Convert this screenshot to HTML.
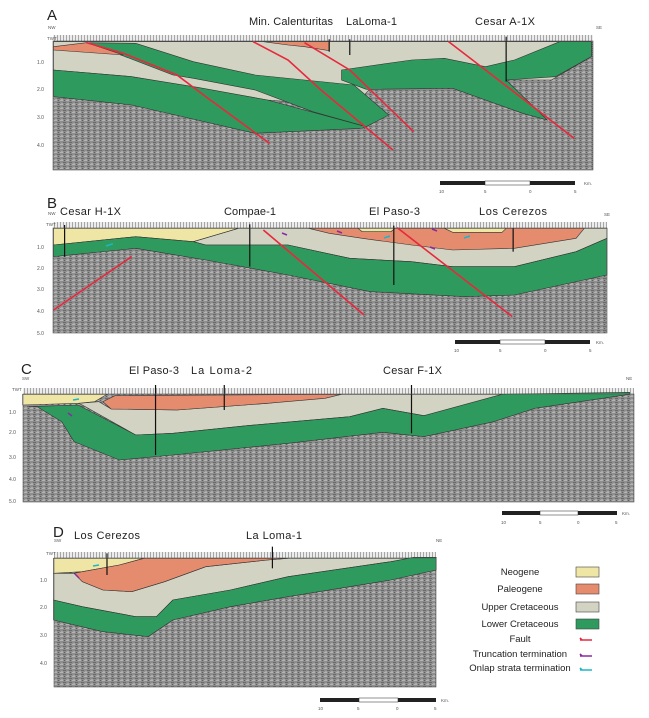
<!DOCTYPE html>
<html><head><meta charset="utf-8">
<style>
html,body{margin:0;padding:0;background:#fff;}
svg{display:block;font-family:"Liberation Sans",sans-serif;}
.tk{font-size:5px;fill:#555;}
.ttl{font-size:11px;fill:#222;}
.pl{font-size:15px;fill:#222;}
.sm{font-size:4.5px;fill:#555;}
.ln{vector-effect:non-scaling-stroke;stroke:#333;stroke-width:0.6;}
.ft{vector-effect:non-scaling-stroke;stroke:#e8283c;stroke-width:1.6;fill:none;}
.wl{vector-effect:non-scaling-stroke;stroke:#111;stroke-width:1.2;}
.ng{fill:#efe6a6;} .pg{fill:#e58b6e;} .uc{fill:#d3d3c3;} .lc{fill:#2f9a5e;}
.lg{font-size:9.5px;fill:#222;}
</style></head>
<body>
<svg width="649" height="718" viewBox="0 0 649 718" xmlns="http://www.w3.org/2000/svg">
<defs>
<pattern id="seis" width="6" height="4" patternUnits="userSpaceOnUse">
<rect width="6" height="4" fill="#8e8e8e"/>
<rect x="0" y="0" width="3" height="1" fill="#b4b4b4"/>
<rect x="3" y="2" width="3" height="1" fill="#6a6a6a"/>
<rect x="1" y="3" width="2" height="1" fill="#a8a8a8"/>
<rect x="4" y="0" width="1" height="1" fill="#5e5e5e"/>
</pattern>
<pattern id="rul" width="3" height="6" patternUnits="userSpaceOnUse">
<rect width="3" height="6" fill="#ececec"/><rect x="0" width="0.6" height="6" fill="#777"/>
</pattern>
</defs>

<!-- PANEL A -->
<g>
<text class="pl" x="47" y="20">A</text>
<text class="sm" x="48" y="29">NW</text>
<text class="sm" x="596" y="29">SE</text>
<text class="ttl" x="249" y="25" textLength="84">Min. Calenturitas</text>
<text class="ttl" x="346" y="25" textLength="51">LaLoma-1</text>
<text class="ttl" x="475" y="25" textLength="60">Cesar A-1X</text>
<rect x="53" y="35" width="540" height="7" fill="url(#rul)"/>
<rect x="53" y="41" width="540" height="129" fill="url(#seis)"/>
<g transform="scale(0.4115,0.3333)">
<polygon class="uc ln" points="130,125 1437,125 1437,170 1340,240 1200,240 1080,180 900,265 860,320 650,300 470,262 320,230 130,210"/>
<polygon class="lc ln" points="130,210 320,230 480,262 650,300 890,380 880,385 620,400 320,315 130,290"/>
<polygon class="lc ln" points="210,128 330,130 470,185 620,225 740,240 860,255 945,345 890,380 760,335 620,270 470,235 420,225 300,168"/>
<polygon class="lc ln" points="830,210 1000,180 1080,175 1180,200 1250,180 1360,125 1437,125 1437,170 1350,230 1230,240 1330,360 1270,340 1100,265 890,268 830,240"/>
<polygon class="pg ln" points="130,140 210,128 300,165 130,150"/>
<polygon class="pg ln" points="640,125 800,125 800,152 740,140 700,135"/>
<polyline class="ft" points="210,128 300,160 430,225 500,290 655,430"/>
<polyline class="ft" points="615,125 700,180 780,270 955,450"/>
<polyline class="ft" points="740,128 850,210 1005,395"/>
<polyline class="ft" points="1090,125 1180,210 1395,415"/>
<line class="wl" x1="800" y1="118" x2="800" y2="155"/>
<line class="wl" x1="850" y1="118" x2="850" y2="165"/>
<line class="wl" x1="1230" y1="110" x2="1230" y2="245"/>
</g>
<rect x="53" y="41" width="540" height="129" fill="none" stroke="#555" stroke-width="0.6"/>
<text class="sm" x="47" y="40">TWT</text>
<text class="tk" x="37" y="64">1.0</text><text class="tk" x="37" y="91">2.0</text>
<text class="tk" x="37" y="119">3.0</text><text class="tk" x="37" y="147">4.0</text>
<g>
<rect x="440" y="181" width="45" height="4" fill="#222"/><rect x="485" y="181" width="45" height="4" fill="#fff" stroke="#222" stroke-width="0.5"/><rect x="530" y="181" width="45" height="4" fill="#222"/>
<text class="sm" x="439" y="193">10</text><text class="sm" x="484" y="193">5</text><text class="sm" x="529" y="193">0</text><text class="sm" x="574" y="193">5</text><text class="sm" x="584" y="185">Km.</text>
</g>
</g>

<!-- PANEL B -->
<g>
<text class="pl" x="47" y="208">B</text>
<text class="sm" x="48" y="215">NW</text>
<text class="sm" x="604" y="216">SE</text>
<text class="ttl" x="60" y="215" textLength="61">Cesar H-1X</text>
<text class="ttl" x="224" y="215" textLength="52">Compae-1</text>
<text class="ttl" x="369" y="215" textLength="51">El Paso-3</text>
<text class="ttl" x="479" y="215" textLength="68">Los Cerezos</text>
<rect x="53" y="222" width="554" height="6" fill="url(#rul)"/>
<rect x="53" y="228" width="554" height="105" fill="url(#seis)"/>
<g transform="translate(0,195) scale(0.4115,0.3333)">
<polygon class="ng ln" points="130,100 580,100 470,140 330,125 130,150"/>
<polygon class="uc ln" points="580,100 1475,100 1475,130 1400,170 1250,215 1100,215 1000,200 850,190 700,150 500,150 470,140"/>
<polygon class="lc ln" points="130,150 330,125 470,140 500,150 700,150 850,190 1000,200 1100,215 1250,215 1400,170 1475,130 1475,240 1250,300 1130,305 900,290 700,240 500,195 330,160 130,185"/>
<polygon class="pg ln" points="750,100 1420,100 1400,130 1250,160 1100,165 1000,150 880,130 800,115"/>
<polygon class="ng ln" points="1080,100 1230,100 1220,112 1100,112"/>
<polygon class="ng ln" points="870,100 960,100 950,110 880,110"/>
<polyline class="ft" points="640,105 885,360"/>
<polyline class="ft" points="965,98 1245,365"/>
<polyline class="ft" points="130,345 320,185"/>
<line class="wl" x1="157" y1="90" x2="157" y2="185"/>
<line class="wl" x1="607" y1="88" x2="607" y2="215"/>
<line class="wl" x1="957" y1="92" x2="957" y2="270"/>
<line class="wl" x1="1247" y1="100" x2="1247" y2="170"/>
</g>
<g stroke-width="1.5" fill="none">
<path d="M106,246 l6,-2 l0,1" stroke="#1fb5c8"/><path d="M384,238 l6,-2" stroke="#1fb5c8"/><path d="M464,238 l6,-2" stroke="#1fb5c8"/>
<path d="M282,233 l5,2" stroke="#8a2aa0"/><path d="M337,231 l5,2" stroke="#8a2aa0"/><path d="M432,229 l5,2" stroke="#8a2aa0"/><path d="M430,247 l5,2" stroke="#8a2aa0"/>
</g>
<rect x="53" y="228" width="554" height="105" fill="none" stroke="#555" stroke-width="0.6"/>
<text class="sm" x="46" y="226">TWT</text>
<text class="tk" x="37" y="249">1.0</text><text class="tk" x="37" y="270">2.0</text><text class="tk" x="37" y="291">3.0</text>
<text class="tk" x="37" y="313">4.0</text><text class="tk" x="37" y="335">5.0</text>
<g>
<rect x="455" y="340" width="45" height="4" fill="#222"/><rect x="500" y="340" width="45" height="4" fill="#fff" stroke="#222" stroke-width="0.5"/><rect x="545" y="340" width="45" height="4" fill="#222"/>
<text class="sm" x="454" y="352">10</text><text class="sm" x="499" y="352">5</text><text class="sm" x="544" y="352">0</text><text class="sm" x="589" y="352">5</text><text class="sm" x="596" y="344">Km.</text>
</g>
</g>

<!-- PANEL C -->
<g>
<text class="pl" x="21" y="374">C</text>
<text class="sm" x="22" y="380">SW</text>
<text class="sm" x="626" y="380">NE</text>
<text class="ttl" x="129" y="374" textLength="50">El Paso-3</text>
<text class="ttl" x="191" y="374" textLength="61">La Loma-2</text>
<text class="ttl" x="383" y="374" textLength="59">Cesar F-1X</text>
<rect x="23" y="388" width="611" height="6" fill="url(#rul)"/>
<rect x="23" y="394" width="611" height="108" fill="url(#seis)"/>
<g transform="translate(0,355) scale(0.4115,0.3333)">
<polygon class="uc ln" points="190,145 240,140 270,162 430,165 650,145 830,118 1220,118 1120,160 1030,182 930,160 850,185 600,212 420,235 330,240 200,150"/>
<polygon class="ng ln" points="55,118 260,118 230,140 190,145 55,150"/>
<polygon class="pg ln" points="250,140 280,122 830,118 790,130 650,145 430,165 270,162"/>
<polygon class="lc ln" points="70,155 190,150 330,240 420,235 600,212 850,185 930,160 1030,182 1220,118 1530,112 1530,118 1300,160 1200,200 1030,245 930,232 700,265 420,300 290,315 180,260 150,200 90,155"/>
<line class="wl" x1="378" y1="90" x2="378" y2="300"/>
<line class="wl" x1="545" y1="90" x2="545" y2="165"/>
<line class="wl" x1="1000" y1="90" x2="1000" y2="235"/>
</g>
<path d="M73,400 l6,-1" stroke="#1fb5c8" stroke-width="1.5"/><path d="M68,413 l4,3" stroke="#8a2aa0" stroke-width="1.5"/>
<rect x="23" y="394" width="611" height="108" fill="none" stroke="#555" stroke-width="0.6"/>
<text class="sm" x="12" y="391">TWT</text>
<text class="tk" x="9" y="414">1.0</text><text class="tk" x="9" y="434">2.0</text><text class="tk" x="9" y="459">3.0</text>
<text class="tk" x="9" y="481">4.0</text><text class="tk" x="9" y="503">5.0</text>
<g>
<rect x="502" y="511" width="38" height="4" fill="#222"/><rect x="540" y="511" width="38" height="4" fill="#fff" stroke="#222" stroke-width="0.5"/><rect x="578" y="511" width="39" height="4" fill="#222"/>
<text class="sm" x="501" y="524">10</text><text class="sm" x="539" y="524">5</text><text class="sm" x="577" y="524">0</text><text class="sm" x="615" y="524">5</text><text class="sm" x="622" y="515">Km.</text>
</g>
</g>

<!-- PANEL D -->
<g>
<text class="pl" x="53" y="537">D</text>
<text class="sm" x="54" y="542">SW</text>
<text class="sm" x="436" y="542">NE</text>
<text class="ttl" x="74" y="539" textLength="66">Los Cerezos</text>
<text class="ttl" x="246" y="539" textLength="56">La Loma-1</text>
<rect x="54" y="552" width="382" height="7" fill="url(#rul)"/>
<rect x="54" y="558" width="382" height="129" fill="url(#seis)"/>
<g transform="translate(0,500) scale(0.4115,0.3333)">
<polygon class="uc ln" points="130,220 180,220 200,245 250,270 320,275 400,245 500,200 650,180 700,175 1000,175 950,185 700,230 560,270 420,300 380,350 330,350 200,320 130,300"/>
<polygon class="ng ln" points="130,175 350,175 290,195 200,215 130,220"/>
<polygon class="pg ln" points="180,220 200,215 290,195 350,175 700,175 650,180 500,200 400,245 320,275 250,270 200,245"/>
<polygon class="lc ln" points="130,300 200,320 330,350 380,350 420,300 560,270 700,230 950,185 1005,172 1060,172 1060,210 950,240 700,290 560,320 420,360 360,410 250,395 130,360"/>
<line class="wl" x1="260" y1="160" x2="260" y2="225"/>
<line class="wl" x1="662" y1="140" x2="662" y2="205"/>
</g>
<path d="M93,566 l6,-1" stroke="#1fb5c8" stroke-width="1.5"/><path d="M75,574 l4,4" stroke="#8a2aa0" stroke-width="1.5"/>
<rect x="54" y="558" width="382" height="129" fill="none" stroke="#555" stroke-width="0.6"/>
<text class="sm" x="46" y="555">TWT</text>
<text class="tk" x="40" y="582">1.0</text><text class="tk" x="40" y="609">2.0</text><text class="tk" x="40" y="637">3.0</text><text class="tk" x="40" y="665">4.0</text>
<g>
<rect x="320" y="698" width="39" height="4" fill="#222"/><rect x="359" y="698" width="39" height="4" fill="#fff" stroke="#222" stroke-width="0.5"/><rect x="398" y="698" width="38" height="4" fill="#222"/>
<text class="sm" x="318" y="710">10</text><text class="sm" x="357" y="710">5</text><text class="sm" x="396" y="710">0</text><text class="sm" x="434" y="710">5</text><text class="sm" x="441" y="702">Km.</text>
</g>
</g>

<!-- LEGEND -->
<g>
<g><text class="lg" x="520" y="575" text-anchor="middle">Neogene</text><rect x="576" y="567" width="23" height="10" fill="#efe6a6" stroke="#444" stroke-width="0.6"/></g>
<g><text class="lg" x="520" y="592" text-anchor="middle">Paleogene</text><rect x="576" y="584" width="23" height="10" fill="#e58b6e" stroke="#444" stroke-width="0.6"/></g>
<g><text class="lg" x="520" y="610" text-anchor="middle">Upper Cretaceous</text><rect x="576" y="602" width="23" height="10" fill="#d3d3c3" stroke="#444" stroke-width="0.6"/></g>
<g><text class="lg" x="520" y="627" text-anchor="middle">Lower Cretaceous</text><rect x="576" y="619" width="23" height="10" fill="#2f9a5e" stroke="#444" stroke-width="0.6"/></g>
<g><text class="lg" x="520" y="642" text-anchor="middle">Fault</text><path d="M582,640 l-2,-2 M580,640 h12" stroke="#e8283c" stroke-width="1.6" fill="none"/></g>
<g><text class="lg" x="520" y="657" text-anchor="middle">Truncation termination</text><path d="M582,656 l-2,-2 M580,656 h12" stroke="#8a2aa0" stroke-width="1.6" fill="none"/></g>
<g><text class="lg" x="520" y="671" text-anchor="middle">Onlap strata termination</text><path d="M582,670 l-2,-2 M580,670 h12" stroke="#1fb5c8" stroke-width="1.6" fill="none"/></g>
</g>
</svg>
</body></html>
